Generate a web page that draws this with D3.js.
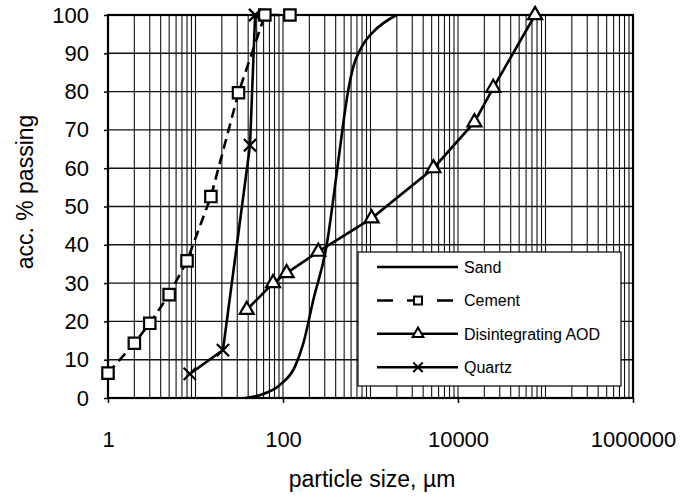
<!DOCTYPE html>
<html>
<head>
<meta charset="utf-8">
<script src="https://cdn.jsdelivr.net/npm/d3@7"></script>
<style>
  body { margin: 0; background: #fff; }
  text { font-family: "Liberation Sans", Arial, sans-serif; fill: #000; }
</style>
</head>
<body>
<svg id="chart" width="696" height="497"></svg>
<script>
(function () {
    'use strict';

    // data (x = particle size in um, y = acc. % passing)
    var sandSize = [37, 55, 92, 137, 171, 222, 316, 411, 489, 557, 636, 793, 1076, 1990];
    var sandPassing = [0, 0.8, 3.4, 8.2, 14.3, 25.6, 40, 58.7, 71.8, 80.4, 86.5, 91.7, 95.6, 100];

    var cementSize = [1, 2, 3, 5, 8, 15, 31, 62, 120];
    var cementPassing = [6.5, 14.3, 19.5, 27, 35.8, 52.6, 79.7, 100, 100];

    var aodSize = [38.5, 77, 110, 253, 1030, 5240, 15400, 25300, 76000];
    var aodPassing = [23, 30, 32.6, 38.2, 46.9, 60, 72, 81, 100];

    var quartzSize = [8.6, 20.6, 42, 48];
    var quartzPassing = [6.3, 12.5, 66, 100];

    var seriesNames = ["Sand", "Cement", "Disintegrating AOD", "Quartz"];
    var sizeTicks = [1, 100, 10000, 1000000];
    var passingTicks = [0, 10, 20, 30, 40, 50, 60, 70, 80, 90, 100];

    var left = 108, top = 15, right = 633, bottom = 398;

    var svg = d3.select("#chart");

    var x = d3.scaleLog().domain([1, 1000000]).range([left, right]);
    var y = d3.scaleLinear().domain([0, 100]).range([bottom, top]);

    var zip = function (a, b) {
        return a.map(function (v, i) { return [v, b[i]]; });
    };

    // grid
    var grid = svg.append("g");
    grid.selectAll("line.v").data(x.ticks()).enter().append("line")
        .attr("x1", function (d) { return x(d); }).attr("x2", function (d) { return x(d); })
        .attr("y1", top).attr("y2", bottom)
        .attr("stroke", "#111").attr("stroke-width", 1.1);
    grid.selectAll("line.h").data(passingTicks).enter().append("line")
        .attr("x1", left).attr("x2", right)
        .attr("y1", function (d) { return y(d); }).attr("y2", function (d) { return y(d); })
        .attr("stroke", "#111").attr("stroke-width", 1.4);

    // axes
    var xAxis = d3.axisBottom(x).tickValues(sizeTicks).tickSize(5).tickPadding(28)
        .tickFormat(d3.format("d"));
    var gx = svg.append("g").attr("transform", "translate(0," + bottom + ")").call(xAxis);
    var yAxis = d3.axisLeft(y).tickValues(passingTicks).tickSize(4).tickPadding(15);
    var gy = svg.append("g").attr("transform", "translate(" + left + ",0)").call(yAxis);
    [gx, gy].forEach(function (g) {
        g.select(".domain").remove();
        g.selectAll("line").attr("stroke", "#000").attr("stroke-width", 1.5);
        g.selectAll("text").style("font-size", "22px")
            .style("font-family", "'Liberation Sans', Arial, sans-serif");
    });

    svg.append("rect").attr("x", left).attr("y", top)
        .attr("width", right - left).attr("height", bottom - top)
        .attr("fill", "none").attr("stroke", "#000").attr("stroke-width", 2.2);

    // lines
    var line = d3.line().x(function (d) { return x(d[0]); }).y(function (d) { return y(d[1]); });
    var smooth = d3.line().curve(d3.curveMonotoneX)
        .x(function (d) { return x(d[0]); }).y(function (d) { return y(d[1]); });

    svg.append("path").attr("d", smooth(zip(sandSize, sandPassing)))
        .attr("fill", "none").attr("stroke", "#000").attr("stroke-width", 2.6);
    svg.append("path").attr("d", line(zip(cementSize, cementPassing)))
        .attr("fill", "none").attr("stroke", "#000").attr("stroke-width", 2.6)
        .attr("stroke-dasharray", "10,6");
    svg.append("path").attr("d", line(zip(aodSize, aodPassing)))
        .attr("fill", "none").attr("stroke", "#000").attr("stroke-width", 2.6);
    svg.append("path").attr("d", line(zip(quartzSize, quartzPassing)))
        .attr("fill", "none").attr("stroke", "#000").attr("stroke-width", 2.6);

    // markers
    var square = d3.symbol().type(d3.symbolSquare).size(130);
    var triangle = d3.symbol().type(d3.symbolTriangle).size(85);
    var cross = d3.symbol().type(d3.symbolTimes).size(100);

    function markers(data, sym, fill) {
        svg.append("g").selectAll("path").data(data).enter().append("path")
            .attr("d", sym)
            .attr("transform", function (d) { return "translate(" + x(d[0]) + "," + y(d[1]) + ")"; })
            .attr("fill", fill).attr("stroke", "#000").attr("stroke-width", 2.2);
    }
    markers(zip(cementSize, cementPassing), square, "#fff");
    markers(zip(aodSize, aodPassing), triangle, "#fff");
    markers(zip(quartzSize, quartzPassing), cross, "none");

    // legend
    var lg = svg.append("g").attr("transform", "translate(358,252)");
    lg.append("rect").attr("width", 263).attr("height", 134)
        .attr("fill", "#fff").attr("stroke", "#000").attr("stroke-width", 1.2);
    var rows = lg.selectAll("g.row").data(seriesNames).enter().append("g")
        .attr("transform", function (d, i) { return "translate(0," + (15 + i * 33.4) + ")"; });
    rows.append("line").attr("x1", 19).attr("x2", 100)
        .attr("stroke", "#000").attr("stroke-width", 2.5)
        .attr("stroke-dasharray", function (d, i) { return i === 1 ? "16,14" : null; });
    rows.append("text").attr("x", 106).attr("y", 6).style("font-size", "16px")
        .text(function (d) { return d; });
    rows.filter(function (d, i) { return i === 1; }).append("path").attr("d", square.size(64))
        .attr("transform", "translate(60,0)").attr("fill", "#fff").attr("stroke", "#000").attr("stroke-width", 2);
    rows.filter(function (d, i) { return i === 2; }).append("path").attr("d", triangle.size(50))
        .attr("transform", "translate(60,0)").attr("fill", "#fff").attr("stroke", "#000").attr("stroke-width", 2);
    rows.filter(function (d, i) { return i === 3; }).append("path").attr("d", cross.size(60))
        .attr("transform", "translate(60,0)").attr("fill", "none").attr("stroke", "#000").attr("stroke-width", 2);

    // titles
    svg.append("text").attr("x", 372).attr("y", 487).attr("text-anchor", "middle")
        .style("font-size", "23px").text("particle size, µm");
    svg.append("text").attr("transform", "translate(33,192) rotate(-90)").attr("text-anchor", "middle")
        .style("font-size", "23px").text("acc. % passing");
})();
</script>
</body>
</html>
